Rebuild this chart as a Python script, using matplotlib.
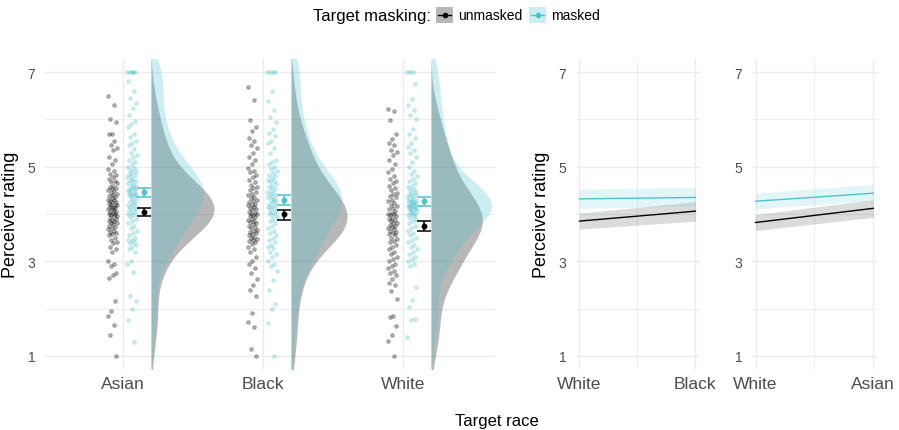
import numpy as np
import matplotlib.pyplot as plt
from matplotlib.patches import Rectangle
from matplotlib.lines import Line2D

plt.rcParams['font.family'] = ['Liberation Sans', 'DejaVu Sans']

#=====================================================================#
#===[    DATA    ]====================================================#
#=====================================================================#
RACES = ["Asian", "Black", "White"]

# perceiver ratings per target race, unmasked / masked targets
asian_unmasked = [
    6.5, 6.3, 6.0, 5.95, 5.7, 5.7, 5.55, 5.45, 5.4, 5.35, 5.2, 5.15,
    5.05, 4.95, 4.9, 4.85, 4.82, 4.78, 4.75, 4.7, 4.68, 4.65,
    4.6, 4.58, 4.55, 4.52, 4.5, 4.48, 4.45, 4.43, 4.4, 4.38,
    4.35, 4.33, 4.3, 4.3, 4.28, 4.25, 4.25, 4.22, 4.2, 4.2,
    4.18, 4.15, 4.15, 4.12, 4.1, 4.1, 4.08, 4.05, 4.05, 4.02,
    4.0, 4.0, 3.98, 3.95, 3.95, 3.92, 3.9, 3.88, 3.85, 3.85,
    3.82, 3.8, 3.78, 3.75, 3.72, 3.7, 3.68, 3.65, 3.62, 3.6,
    3.57, 3.55, 3.5, 3.45, 3.4, 3.38, 3.3, 3.25, 3.2, 3.0, 2.95, 2.9,
    2.75, 2.7, 2.65, 2.15, 1.95, 1.85, 1.65, 1.45, 1.0,
]
asian_masked = [
    7.0, 7.0, 7.0, 7.0, 7.0,
    6.82, 6.6, 6.45, 6.35, 6.25, 6.1, 5.97, 5.9, 5.85, 5.7, 5.62, 5.55,
    5.5, 5.45, 5.38, 5.3, 5.25, 5.2,
    5.15, 5.1, 5.05, 5.0, 4.97, 4.93, 4.9, 4.88, 4.85, 4.82, 4.8, 4.78,
    4.75, 4.72, 4.7, 4.68, 4.65, 4.62, 4.6, 4.58, 4.55, 4.53, 4.5, 4.5,
    4.48, 4.45, 4.45, 4.42, 4.4, 4.4, 4.38, 4.35, 4.33, 4.3, 4.28, 4.25,
    4.22, 4.2, 4.18, 4.15, 4.12, 4.1, 4.08, 4.05, 4.02, 4.0, 3.97, 3.93,
    3.9, 3.85, 3.8, 3.75, 3.7, 3.65, 3.6, 3.55, 3.5, 3.45, 3.45, 3.4,
    3.38, 3.35, 3.3, 3.26, 3.2, 3.0, 2.95, 2.77, 2.27, 2.15, 2.0, 1.75, 1.3,
]
black_unmasked = [
    6.68, 6.42, 5.99, 5.85, 5.75, 5.6, 5.55, 5.45, 5.4, 5.3, 5.2, 5.15,
    5.05, 4.98, 4.92, 4.88, 4.82, 4.78, 4.72, 4.68, 4.62, 4.58, 4.55, 4.5,
    4.47, 4.43, 4.4, 4.37, 4.33, 4.3, 4.27, 4.25, 4.22, 4.2, 4.18, 4.15,
    4.12, 4.1, 4.08, 4.05, 4.03, 4.0, 4.0, 3.98, 3.95, 3.93, 3.9, 3.88,
    3.85, 3.83, 3.8, 3.78, 3.75, 3.72, 3.7, 3.67, 3.65, 3.62, 3.6, 3.57,
    3.55, 3.52, 3.5, 3.47, 3.45, 3.42, 3.4, 3.37,
    3.3, 3.25, 3.2, 3.1, 3.0, 2.95, 2.85, 2.75, 2.63, 2.5, 2.4, 2.27,
    1.9, 1.72, 1.6, 1.15, 1.0,
]
black_masked = [
    7.0, 7.0, 7.0, 7.0,
    6.6, 6.4, 6.2, 6.05, 5.95, 5.8, 5.72, 5.65, 5.55, 5.5, 5.4, 5.3,
    5.15, 5.1, 5.05, 5.0, 4.95, 4.9, 4.87, 4.83, 4.8, 4.77, 4.73, 4.7,
    4.67, 4.63, 4.6, 4.57, 4.53, 4.5, 4.47, 4.45, 4.42, 4.4, 4.37, 4.35,
    4.32, 4.3, 4.28, 4.25, 4.22, 4.2, 4.17, 4.15, 4.12, 4.1, 4.07, 4.05,
    4.02, 4.0, 3.97, 3.93, 3.9, 3.85, 3.8, 3.75, 3.7, 3.65, 3.6, 3.55,
    3.5, 3.45, 3.4, 3.35, 3.3, 3.28, 3.2, 3.15, 3.1, 3.0, 2.95,
    2.9, 2.8, 2.6, 2.4, 2.1, 2.0, 1.7, 1.0,
]
white_unmasked = [
    6.22, 6.18, 5.99, 5.7, 5.58, 5.5, 5.45, 5.35, 5.31, 5.25, 5.15,
    5.05, 4.95, 4.88, 4.8, 4.75, 4.7, 4.65, 4.6, 4.55, 4.5, 4.45, 4.42,
    4.38, 4.35, 4.3, 4.27, 4.23, 4.2, 4.17, 4.13, 4.1, 4.07, 4.03, 4.0,
    4.0, 3.97, 3.95, 3.92, 3.9, 3.88, 3.85, 3.82, 3.8, 3.77, 3.75, 3.72,
    3.7, 3.68, 3.65, 3.62, 3.6, 3.57, 3.55, 3.5, 3.47, 3.43, 3.4, 3.35,
    3.3, 3.25, 3.2, 3.15, 3.1, 3.05, 3.0, 2.95, 2.9, 2.85, 2.8, 2.75, 2.7,
    2.62, 2.55, 2.49, 2.38, 2.2, 1.85, 1.82, 1.64, 1.43, 1.32, 1.0,
]
white_masked = [
    7.0, 7.0, 7.0,
    6.75, 6.43, 6.3, 6.2, 6.1, 6.0, 5.8, 5.7, 5.6, 5.5, 5.42, 5.35, 5.3, 5.2,
    5.1, 5.0, 4.9, 4.85, 4.8, 4.75, 4.7, 4.65, 4.6, 4.57, 4.53, 4.5,
    4.47, 4.45, 4.42, 4.4, 4.38, 4.35, 4.33, 4.3, 4.3, 4.28, 4.27, 4.25,
    4.25, 4.23, 4.22, 4.2, 4.2, 4.18, 4.17, 4.15, 4.15, 4.13, 4.12, 4.1,
    4.1, 4.08, 4.07, 4.05, 4.03, 4.0, 4.0, 3.97, 3.95, 3.92, 3.9, 3.85,
    3.8, 3.75, 3.7, 3.65, 3.6, 3.55, 3.5, 3.45, 3.4, 3.35, 3.3, 3.25,
    3.2, 3.15, 3.1, 3.05, 3.0, 2.95, 2.9, 2.45, 2.17, 2.03, 1.78, 1.75, 1.4,
]
ratings_unmasked = [asian_unmasked, black_unmasked, white_unmasked]
ratings_masked = [asian_masked, black_masked, white_masked]

# group means with 95% CI
mean_unmasked = [4.05, 3.99, 3.75]
lo_unmasked = [3.96, 3.88, 3.65]
hi_unmasked = [4.13, 4.09, 3.85]
mean_masked = [4.46, 4.30, 4.27]
lo_masked = [4.36, 4.19, 4.16]
hi_masked = [4.55, 4.40, 4.37]

# model predictions for the two contrasts
contrast_labels = [["White", "Black"], ["White", "Asian"]]
fit_unmasked = [[3.85, 4.06], [3.82, 4.12]]
fit_unmasked_lo = [[3.68, 3.85], [3.65, 3.93]]
fit_unmasked_hi = [[4.02, 4.26], [3.99, 4.30]]
fit_masked = [[4.32, 4.35], [4.27, 4.44]]
fit_masked_lo = [[4.12, 4.17], [4.11, 4.28]]
fit_masked_hi = [[4.53, 4.56], [4.44, 4.63]]

#=====================================================================#
#===[    STYLE    ]===================================================#
#=====================================================================#
COR_UNMASKED = "#000000"
COR_MASKED = "#4CC3CE"
ALPHA_DENS = 0.28
GRID = "#EBEBEB"
TICK = "#4D4D4D"
YLIM = (0.72, 7.28)
BW = 0.42


def kde(valores, grade, bw=BW):
    v = np.asarray(valores)[:, None]
    z = (grade[None, :] - v) / bw
    return np.exp(-0.5 * z ** 2).sum(axis=0) / (len(valores) * bw * np.sqrt(2 * np.pi))


def jitter(n, largura):
    # deterministic spread of horizontal offsets
    return ((np.arange(n) * 0.6180339887) % 1.0 - 0.5) * 2 * largura


def estilo(ax):
    for s in ax.spines.values():
        s.set_visible(False)
    ax.set_ylim(*YLIM)
    ax.set_yticks([1, 3, 5, 7])
    ax.set_yticks([2, 4, 6], minor=True)
    ax.tick_params(axis='both', which='both', length=0, colors=TICK)
    ax.tick_params(axis='y', labelsize=10, pad=7)
    ax.tick_params(axis='x', labelsize=12.5, pad=5)
    ax.grid(which='major', color=GRID, linewidth=1.0, zorder=0)
    ax.grid(which='minor', color=GRID, linewidth=0.6, zorder=0)
    ax.set_axisbelow(True)


fig = plt.figure(figsize=(8.99, 4.31), dpi=100)

#=====================================================================#
#===[    RAINCLOUD PANEL    ]=========================================#
#=====================================================================#
ax = fig.add_axes([45 / 899, 61 / 431, 450 / 899, 310 / 431])
estilo(ax)
ax.set_xlim(1 - 78 / 140, 3 + 92 / 140)
ax.set_xticks([1, 2, 3])
ax.set_xticklabels(RACES)

grade = np.linspace(-0.5, 8.5, 600)
dens = [kde(r, grade) for r in ratings_unmasked + ratings_masked]
escala = 0.45 / max(d.max() for d in dens)

for i in range(3):
    x0 = i + 1
    for dados, cor, dx in ((ratings_unmasked[i], COR_UNMASKED, -0.075),
                           (ratings_masked[i], COR_MASKED, 0.065)):
        xs = x0 + dx + jitter(len(dados), 0.034)
        ax.scatter(xs, dados, s=7, facecolors=cor, edgecolors=cor,
                   alpha=0.3, linewidths=0.6, zorder=2)

    for m, lo, hi, cor in ((mean_masked[i], lo_masked[i], hi_masked[i], COR_MASKED),
                           (mean_unmasked[i], lo_unmasked[i], hi_unmasked[i], COR_UNMASKED)):
        ax.errorbar(x0 + 0.15, m, yerr=[[m - lo], [hi - m]], fmt='o', color=cor,
                    markersize=3.2, capsize=5, elinewidth=1.1, capthick=1.1, zorder=3)

    base = x0 + 0.2
    d_un = kde(ratings_unmasked[i], grade) * escala
    d_ma = kde(ratings_masked[i], grade) * escala
    ax.fill_betweenx(grade, base, base + d_un, color=COR_UNMASKED, alpha=ALPHA_DENS,
                     linewidth=0, zorder=4)
    ax.fill_betweenx(grade, base, base + d_ma, color=COR_MASKED, alpha=ALPHA_DENS,
                     linewidth=0, zorder=5)

ax.set_ylabel("Perceiver rating", fontsize=13, labelpad=6)

#=====================================================================#
#===[    CONTRAST PANELS    ]=========================================#
#=====================================================================#
posicoes = [[576 / 899, 61 / 431, 124 / 899, 310 / 431],
            [752 / 899, 61 / 431, 126 / 899, 310 / 431]]
for k, pos in enumerate(posicoes):
    axc = fig.add_axes(pos)
    estilo(axc)
    axc.set_xlim(-0.03, 1.04)
    axc.set_xticks([0, 1])
    axc.set_xticks([0.5], minor=True)
    axc.set_xticklabels(contrast_labels[k])
    xs = [0, 1]
    axc.fill_between(xs, fit_unmasked_lo[k], fit_unmasked_hi[k], color=COR_UNMASKED,
                     alpha=0.14, linewidth=0, zorder=2)
    axc.fill_between(xs, fit_masked_lo[k], fit_masked_hi[k], color=COR_MASKED,
                     alpha=0.16, linewidth=0, zorder=2)
    axc.plot(xs, fit_unmasked[k], color=COR_UNMASKED, linewidth=1.0, zorder=3)
    axc.plot(xs, fit_masked[k], color=COR_MASKED, linewidth=1.0, zorder=3)
    if k == 0:
        axc.set_ylabel("Perceiver rating", fontsize=13, labelpad=6)

fig.text(497 / 899, 1 - 422 / 431, "Target race", fontsize=12, ha='center', va='center')

#=====================================================================#
#===[    LEGEND    ]==================================================#
#=====================================================================#
ly = 1 - 16 / 431
fig.text(313 / 899, ly, "Target masking:", fontsize=12, va='center')
chaves = [(436, "unmasked", COR_UNMASKED), (529, "masked", COR_MASKED)]
for x, rotulo, cor in chaves:
    fig.add_artist(Rectangle((x / 899, 1 - 24 / 431), 17 / 899, 16 / 431,
                             transform=fig.transFigure, facecolor=cor,
                             alpha=ALPHA_DENS, edgecolor='none'))
    fig.add_artist(Line2D([(x + 2) / 899, (x + 15) / 899], [ly, ly],
                          transform=fig.transFigure, color=cor, linewidth=1.0))
    fig.add_artist(Line2D([(x + 8.5) / 899], [ly], transform=fig.transFigure,
                          color=cor, marker='o', markersize=3))
    fig.text((x + 22) / 899, ly, rotulo, fontsize=10, va='center')

fig.savefig("out.png", dpi=100)
